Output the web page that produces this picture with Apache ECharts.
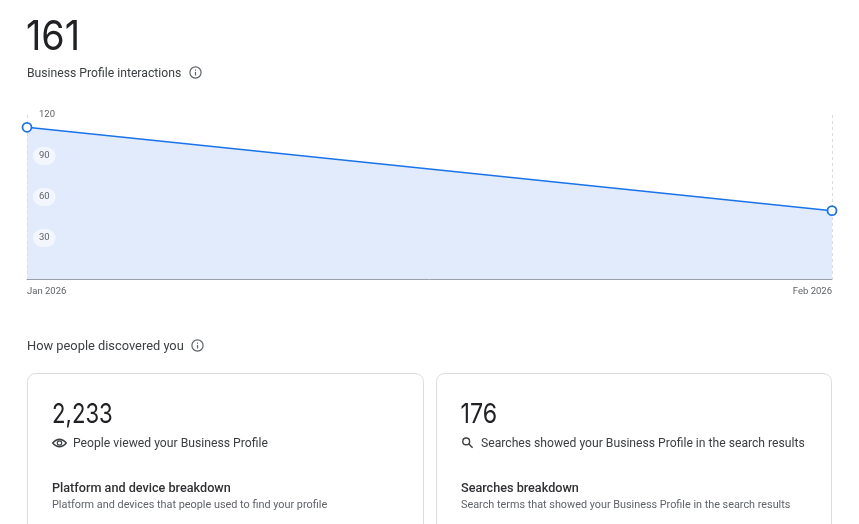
<!DOCTYPE html>
<html>
<head>
<meta charset="utf-8">
<style>html,body{margin:0;padding:0;background:#fff}#c{width:859px;height:524px}</style>
<script src="https://cdn.jsdelivr.net/npm/echarts@6/dist/echarts.min.js"></script>
</head>
<body>
<div id="c"></div>
<script>
var categories = ['Jan 2026', 'Feb 2026'];
var interactions = [111, 50];
var yMax = 120;
var yStep = 30;
var F = 'Roboto, sans-serif';
var NUM = 'Inter, Roboto, sans-serif';
var DARK = '#202124', MID = '#3c4043', GREY = '#5f6368', BLUE = '#1a73e8';

function txt(x, y, s, size, color, weight, sx, fam) {
  return { type: 'text', z: 10, x: x, y: y, scaleX: sx || 1, style: { x: 0, y: 0, text: s, fill: color, textVerticalAlign: 'middle',
    font: (weight || 400) + ' ' + size + 'px ' + (fam || F) } };
}
function info(cx, cy) {
  return [
    { type: 'circle', z: 10, shape: { cx: cx, cy: cy, r: 5.6 }, style: { fill: 'none', stroke: GREY, lineWidth: 1.2 } },
    { type: 'rect', z: 10, shape: { x: cx - 0.6, y: cy - 0.6, width: 1.2, height: 3.6 }, style: { fill: GREY } },
    { type: 'rect', z: 10, shape: { x: cx - 0.6, y: cy - 3, width: 1.2, height: 1.3 }, style: { fill: GREY } }
  ];
}
function card(x, w) {
  return { type: 'rect', z: 1, shape: { x: x, y: 373.5, width: w, height: 180, r: 8 },
    style: { fill: '#fff', stroke: '#dadce0', lineWidth: 1 } };
}
var eye = [
  { type: 'bezierCurve', z: 10, shape: { x1: 52.5, y1: 443, cpx1: 59.5, cpy1: 435.5, x2: 66.5, y2: 443 }, style: { fill: 'none', stroke: MID, lineWidth: 1.3 } },
  { type: 'bezierCurve', z: 10, shape: { x1: 52.5, y1: 443, cpx1: 59.5, cpy1: 450.5, x2: 66.5, y2: 443 }, style: { fill: 'none', stroke: MID, lineWidth: 1.3 } },
  { type: 'circle', z: 10, shape: { cx: 59.5, cy: 443, r: 2.2 }, style: { fill: 'none', stroke: MID, lineWidth: 1.2 } }
];
var lens = [
  { type: 'circle', z: 10, shape: { cx: 466.2, cy: 441.4, r: 3.4 }, style: { fill: 'none', stroke: MID, lineWidth: 1.4 } },
  { type: 'line', z: 10, shape: { x1: 468.8, y1: 444, x2: 472.6, y2: 447.8 }, style: { stroke: MID, lineWidth: 1.5 } }
];

var graphics = [
  txt(26, 37.5, '161', 41, DARK, 400, 0.92, NUM),
  txt(27, 74, 'Business Profile interactions', 12.2, MID),
  txt(27, 347, 'How people discovered you', 12.85, MID),
  card(27.5, 396), card(436.5, 395),
  txt(52, 414.5, '2,233', 27, DARK, 400, 0.82, NUM),
  txt(73, 444, 'People viewed your Business Profile', 12.2, MID),
  txt(52, 488.5, 'Platform and device breakdown', 12.65, '#303134', 500),
  txt(52, 505, 'Platform and devices that people used to find your profile', 10.87, GREY),
  txt(460.5, 414.5, '176', 27, DARK, 400, 0.86, NUM),
  txt(481, 444, 'Searches showed your Business Profile in the search results', 12.16, MID),
  txt(461, 488.5, 'Searches breakdown', 12.65, '#303134', 500),
  txt(461, 505, 'Search terms that showed your Business Profile in the search results', 10.84, GREY)
].concat(info(195.5, 72.5), info(197.5, 345.5), eye, lens);

var chart = echarts.init(document.getElementById('c'), null, { renderer: 'canvas' });
chart.setOption({
  animation: false,
  graphic: graphics,
  grid: { left: 27, right: 27, top: 115, height: 164, containLabel: false },
  xAxis: {
    type: 'category', data: categories, boundaryGap: false, z: 2,
    axisLine: { lineStyle: { color: '#9aa0a6', width: 1 } },
    axisTick: { show: false },
    splitLine: { show: true, showMinLine: true, showMaxLine: true, lineStyle: { color: '#dadce0', type: [3, 3], width: 1 } },
    axisLabel: { show: true, interval: 0, alignMinLabel: 'left', alignMaxLabel: 'right', color: GREY, fontSize: 9.5, fontFamily: F, margin: 8 }
  },
  yAxis: {
    type: 'value', min: 0, max: yMax, interval: yStep, z: 4,
    axisLine: { show: false }, axisTick: { show: false }, splitLine: { show: false },
    axisLabel: { inside: true, showMinLabel: false, color: GREY, fontSize: 9.5, fontFamily: F, margin: 6,
      backgroundColor: 'rgba(255,255,255,0.6)', borderRadius: 9, padding: [4, 6, 4, 6], lineHeight: 10 }
  },
  series: [{
    type: 'line', data: interactions, clip: false, z: 1, silent: true,
    symbol: 'none', lineStyle: { width: 0, opacity: 0 },
    areaStyle: { color: '#e1ebfb', opacity: 1 }
  }, {
    type: 'line', data: interactions, clip: false, z: 3,
    symbol: 'circle', symbolSize: 9, showSymbol: true, showAllSymbol: true,
    lineStyle: { color: BLUE, width: 1.5 },
    itemStyle: { color: '#fff', borderColor: BLUE, borderWidth: 1.8 }
  }]
});
</script>
</body>
</html>
